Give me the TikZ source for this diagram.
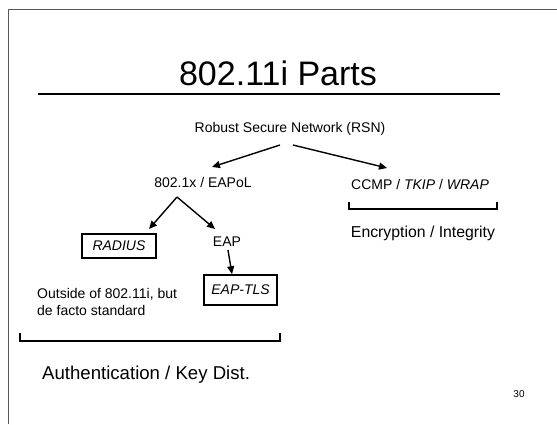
\documentclass[tikz,border=0pt]{standalone}
\usepackage{fontspec}
\setmainfont{Liberation Sans}
\usetikzlibrary{arrows.meta}
\begin{document}
\begin{tikzpicture}[x=1pt,y=-1pt,
  lbl/.style={inner sep=0pt, anchor=base, font=\fontsize{14}{17}\selectfont},
  boxed/.style={draw, line width=1.6pt, inner sep=0pt, font=\fontsize{14}{17}\selectfont\itshape},
  arr/.style={line width=1.4pt, -{Triangle[length=8pt,width=7pt]}},
  brk/.style={line width=2pt},
  frame/.style={draw=black!65, line width=0.8pt}]
\useasboundingbox (0,0) rectangle (557,424);
\draw[frame] (8,424) -- (8,9) -- (557,9);
\node[inner sep=0pt, anchor=base, font=\fontsize{34}{40}\selectfont] (title) at (278,85) {802.11i Parts};
\draw[line width=1.8pt] (38,94) -- (500,94);
\node[lbl] (rsn) at (290,132) {Robust Secure Network (RSN)};
\node[lbl] (eapol) at (203,187) {802.1x / EAPoL};
\node[lbl] (ccmp) at (420,189) {CCMP / \textit{TKIP} / \textit{WRAP}};
\node[lbl, font=\fontsize{15.8}{19}\selectfont] (enc) at (423,237) {Encryption / Integrity};
\node[boxed, minimum width=74pt, minimum height=24pt] (radius) at (119,246) {RADIUS};
\node[lbl] (eap) at (227,246) {EAP};
\node[boxed, minimum width=73pt, minimum height=30pt] (eaptls) at (240.5,290) {EAP-TLS};
\node[lbl, anchor=base west] (outside1) at (37,298) {Outside of 802.11i, but};
\node[lbl, anchor=base west] (outside2) at (37,315) {de facto standard};
\node[inner sep=0pt, anchor=base west, font=\fontsize{18.6}{22}\selectfont] (auth) at (42,379) {Authentication / Key Dist.};
\node[inner sep=0pt, anchor=base, font=\fontsize{10}{12}\selectfont] (pg) at (519,397) {30};
\coordinate (rl) at (280,145);
\coordinate (rr) at (293,145);
\coordinate (tl) at (212,167);
\coordinate (tr) at (387,168);
\coordinate (apex) at (177,197);
\coordinate (tra) at (149,229);
\coordinate (tea) at (215,229);
\coordinate (es) at (228,250);
\draw[arr] (rl) -- (tl);
\draw[arr] (rr) -- (tr);
\draw[arr] (apex) -- (tra);
\draw[arr] (apex) -- (tea);
\draw[arr] (es) -- (eaptls.north -| 232,0);
\draw[brk] (349,202) -- (349,209) -- (497,209) -- (497,202);
\draw[brk] (20,333) -- (20,341) -- (280,341) -- (280,333);
\end{tikzpicture}
\end{document}
